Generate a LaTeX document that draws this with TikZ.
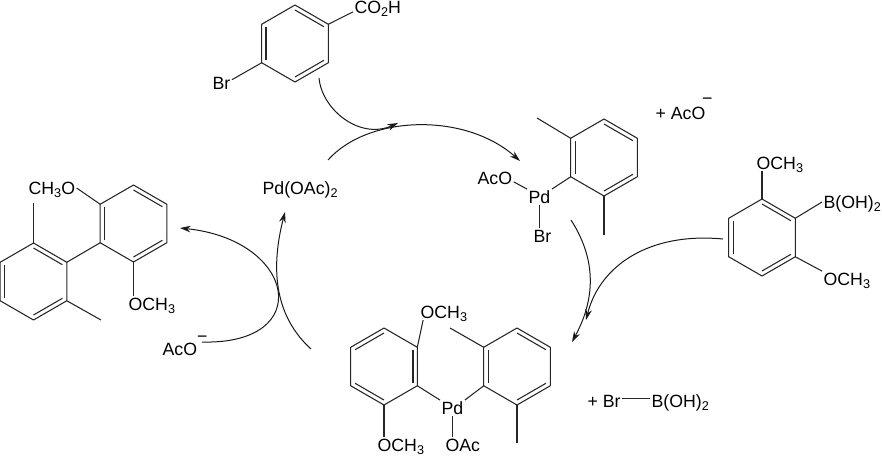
\documentclass[tikz,border=0pt]{standalone}
\usepackage{fontspec}
\setmainfont{Liberation Sans}
\usetikzlibrary{arrows.meta,calc}
\newcommand{\subnum}[1]{\raisebox{-2pt}{\fontsize{9.5}{10}\selectfont #1}}
\newcommand{\chargeup}[2]{\hspace{#1}\raisebox{#2}{−}}
\newcommand{\arylring}[4]{%
  \coordinate (#1-c) at (#2,#3);
  \coordinate (#1-1) at (#2,#3-38.5);
  \coordinate (#1-2) at (#2+33.3,#3-19.25);
  \coordinate (#1-3) at (#2+33.3,#3+19.25);
  \coordinate (#1-4) at (#2,#3+38.5);
  \coordinate (#1-5) at (#2-33.3,#3+19.25);
  \coordinate (#1-6) at (#2-33.3,#3-19.25);
  \draw[bond] (#1-1) -- (#1-2) -- (#1-3) -- (#1-4) -- (#1-5) -- (#1-6) -- cycle;
  \foreach \a/\b in {#4}
    \draw[bond] ($(#1-c)!0.87!(#1-\a)$) -- ($(#1-c)!0.87!(#1-\b)$);
}
\tikzset{
  atom/.style={inner sep=1pt, anchor=west, text height=9.5pt, text depth=0pt,
    font=\fontsize{13.3}{15}\selectfont},
  bond/.style={line width=0.8pt, draw=black!85, line join=round},
  curved/.style={line width=0.75pt, draw=black!90, -{Stealth[length=8pt,width=5pt]}}
}
\begin{document}
\begin{tikzpicture}[x=0.75pt,y=-0.75pt]
  \useasboundingbox (0,0) rectangle (882,455);
  % bromoacid
  \arylring{acid}{295}{43.5}{1/2,3/4,5/6}
  \node[atom] (co2h) at (353,7.5) {CO\subnum{2}H};
  \node[atom] (brtop) at (211,83.5) {Br};
  \draw[bond] (acid-2) -- (co2h.190);
  \draw[bond] (acid-5) -- (brtop.20);
  % palladium aryl bromide
  \arylring{xyl}{604}{157.5}{1/2,3/4,5/6}
  \node[atom] (acou) at (476,178.5) {AcO};
  \node[atom] (pdu) at (527,197) {Pd};
  \node[atom] (bru) at (532,236) {Br};
  \coordinate (xylme) at (537,118);
  \coordinate (xylmeb) at (604,235);
  \draw[bond] (xyl-6) -- (xylme);
  \draw[bond] (xyl-4) -- (xylmeb);
  \draw[bond] (xyl-5) -- (pdu.north east);
  \draw[bond] (acou.-10) -- (pdu.north west);
  \draw[bond] (pdu.south) -- (pdu.south |- bru.north);
  \node[atom] (aco) at (654,113) {+ AcO\chargeup{-2.5pt}{11pt}};
  % boronic acid
  \arylring{boro}{762}{237.5}{1/2,3/4,5/6}
  \node[atom] (omeb) at (755,163) {OCH\subnum{3}};
  \node[atom] (boh) at (822,202) {B(OH)\subnum{2}};
  \node[atom] (omec) at (822,279) {OCH\subnum{3}};
  \draw[bond] (boro-1) -- (boro-1 |- omeb.south);
  \draw[bond] (boro-2) -- (boh.west);
  \draw[bond] (boro-3) -- (omec.north west);
  % diaryl palladium
  \arylring{anis}{384}{366.5}{6/1,2/3,4/5}
  \arylring{xylb}{517}{366.5}{1/2,3/4,5/6}
  \node[atom] (pdl) at (440,408) {Pd};
  \node[atom] (oac) at (444,445) {OAc};
  \node[atom] (omed) at (419,312) {OCH\subnum{3}};
  \node[atom] (omee) at (376,445) {OCH\subnum{3}};
  \coordinate (xylbme) at (450,328);
  \coordinate (xylbmeb) at (517,443);
  \draw[bond] (anis-2) -- (omed.201);
  \draw[bond] (anis-4) -- (anis-4 |- omee.north);
  \draw[bond] (anis-3) -- (pdl.north west);
  \draw[bond] (xylb-5) -- (pdl.north east);
  \draw[bond] (xylb-6) -- (xylbme);
  \draw[bond] (xylb-4) -- (xylbmeb);
  \draw[bond] (pdl.south) -- (pdl.south |- oac.north);
  \node[atom] (plusbr) at (586,401) {+ Br};
  \node[atom] (bohb) at (650,401) {B(OH)\subnum{2}};
  \draw[bond] ([yshift=2pt]plusbr.east) -- ([yshift=2pt]bohb.west);
  % biaryl product
  \arylring{biup}{133.5}{223.5}{1/2,3/4,5/6}
  \arylring{bilo}{33.5}{281.5}{1/2,3/4,5/6}
  \node[atom] (ch3o) at (27,188) {CH\subnum{3}O};
  \node[atom] (omef) at (127,304) {OCH\subnum{3}};
  \coordinate (bilome) at (33.5,203);
  \coordinate (bilomeb) at (101,320);
  \draw[bond] (biup-5) -- (bilo-2);
  \draw[bond] (biup-6) -- (ch3o.east);
  \draw[bond] (biup-4) -- (biup-4 |- omef.north);
  \draw[bond] (bilo-1) -- (bilome);
  \draw[bond] (bilo-3) -- (bilomeb);
  % cycle
  \node[atom] (pdcat) at (261,188) {Pd(OAc)\subnum{2}};
  \node[atom] (acol) at (161,349) {AcO\chargeup{0pt}{9.5pt}};
  \coordinate (starta) at (319,78);
  \coordinate (enda) at (398,123);
  \coordinate (startb) at (328,160);
  \coordinate (endb) at (520,161);
  \coordinate (startc) at (571,220);
  \coordinate (endc) at (572,342);
  \coordinate (startd) at (723,239);
  \coordinate (endd) at (586,320);
  \coordinate (starte) at (311,349);
  \coordinate (ende) at (285,212);
  \coordinate (startf) at (202,342);
  \coordinate (endf) at (180,228);
  \draw[curved] (starta) .. controls (322,110) and (360,140) .. (enda);
  \draw[curved] (startb) .. controls (368,115) and (465,112) .. (endb);
  \draw[curved] (startc) .. controls (600,265) and (592,305) .. (endc);
  \draw[curved] (startd) .. controls (650,232) and (600,265) .. (endd);
  \draw[curved] (starte) .. controls (268,310) and (274,255) .. (ende);
  \draw[curved] (startf) .. controls (316,345) and (296,240) .. (endf);
\end{tikzpicture}
\end{document}
